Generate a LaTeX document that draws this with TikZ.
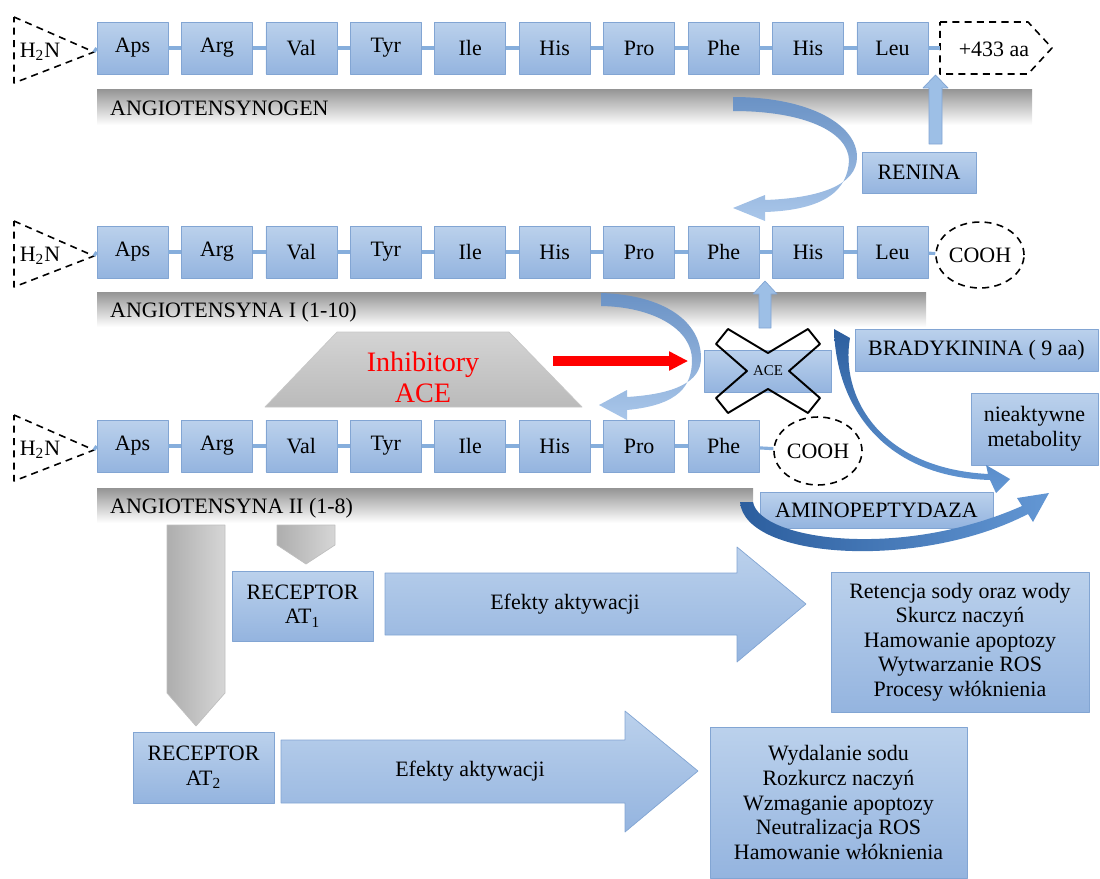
\documentclass[tikz,border=0pt]{standalone}
\usepackage{fontspec}
\setmainfont{Liberation Serif}
\usetikzlibrary{arrows.meta,shapes.geometric}

\definecolor{boxtop}{HTML}{BBD1EC}
\definecolor{boxbot}{HTML}{94B4DF}
\definecolor{boxedge}{HTML}{82A5D3}
\definecolor{linkblue}{HTML}{86AEDC}
\definecolor{upblue}{HTML}{9DBFE6}
\definecolor{curvedark}{HTML}{6A92C5}
\definecolor{curvelight}{HTML}{AAC7EA}
\definecolor{darkA}{HTML}{2C5E9E}
\definecolor{darkB}{HTML}{6397D4}

\begin{document}
\begin{tikzpicture}[x=0.02cm, y=-0.02cm, line join=round,
	every node/.style={font=\fontsize{12.5}{14}\selectfont},
	aa/.style={draw=boxedge, top color=boxtop, bottom color=boxbot, minimum width=1.42cm, minimum height=1.04cm, inner sep=0pt},
	bluebox/.style={draw=boxedge, top color=boxtop, bottom color=boxbot, inner sep=0pt, align=center},
	link/.style={draw=linkblue, line width=1.8pt},
	band/.style={top color=black!42, bottom color=white},
	endcap/.style={draw, line width=0.9pt, dash pattern=on 4pt off 3pt},
	grayarrow/.style={left color=black!32, right color=black!16, draw=black!25},
	bigarrow/.style={top color=boxtop, bottom color=boxbot, draw=boxedge},
	uparrow/.style={fill=upblue, draw=boxedge}]
	\useasboundingbox (0,0) rectangle (1100,879);

	% gray bands under the chains
	\shade[band] (97,89) rectangle (1032,125);
	\node[anchor=west] (ag) at (104,108) {ANGIOTENSYNOGEN};
	\shade[band] (97,292) rectangle (926,327);
	\node[anchor=west] (ang1) at (104,312) {ANGIOTENSYNA I (1-10)};
	\shade[band] (97,488) rectangle (753,523);
	\node[anchor=west] (ang2) at (104,508) {ANGIOTENSYNA II (1-8)};

	% curved light arrows
	\shade[top color=curvedark, bottom color=curvelight] (733,97) .. controls (810,97) and (857,125) .. (857,157) .. controls (857,185) and (820,198) .. (765,200) -- (765,195) -- (733,208) -- (765,221) -- (765,212) .. controls (825,210) and (848,190) .. (849,160) .. controls (848,132) and (805,111) .. (733,111) -- cycle;
	\shade[top color=curvedark, bottom color=curvelight] (601,293) .. controls (665,295) and (701,322) .. (701,358) .. controls (701,382) and (675,394) .. (627,397) -- (627,390) -- (599,405) -- (627,420) -- (627,410) .. controls (680,405) and (692,385) .. (692,360) .. controls (692,330) and (655,307) .. (601,306) -- cycle;

	% peptide chains
	\foreach \res [count=\i] in {Aps,Arg,Val,Tyr,Ile,His,Pro,Phe,His,Leu} {
		\node[aa] (a\i) at ({132.5+84.44*(\i-1)},48) {\res};
		\node[aa] (b\i) at ({132.5+84.44*(\i-1)},252) {\res};
	}
	\foreach \res [count=\i] in {Aps,Arg,Val,Tyr,Ile,His,Pro,Phe}
		\node[aa] (c\i) at ({132.5+84.44*(\i-1)},446) {\res};
	\foreach \i [count=\j from 2] in {1,...,9} {
		\draw[link] (a\i) -- (a\j);
		\draw[link] (b\i) -- (b\j);
	}
	\foreach \i [count=\j from 2] in {1,...,7} \draw[link] (c\i) -- (c\j);

	% N-terminus
	\foreach \row/\y in {a/48,b/252,c/446} {
		\draw[endcap] (14,\y-31) -- (94,\y+4) coordinate (\row0) -- (14,\y+35) -- cycle;
		\node (h\row) at (40,\y+4) {H\textsubscript{2}N};
		\draw[link] (\row0) -- (\row1.west);
	}

	% C-terminus
	\draw[endcap] (940,22) -- (1028,22) -- (1052,48) -- (1028,74) -- (940,74) -- cycle;
	\coordinate (ext) at (940,48);
	\node (rest) at (994,49) {+433 aa};
	\draw[link] (a10) -- (ext);
	\node[endcap, ellipse, minimum width=1.48cm, minimum height=1.32cm, inner sep=0pt] (cooh2) at (980,255) {COOH};
	\node[endcap, ellipse, minimum width=1.46cm, minimum height=1.36cm, inner sep=0pt] (cooh3) at (818,451) {COOH};
	\draw[link] (b10) -- (cooh2);
	\draw[link] (c8) -- (cooh3);

	% renin
	\node[bluebox, minimum width=2.28cm, minimum height=0.82cm] (renin) at (919,172.5) {RENINA};
	\draw[uparrow] (929,144) -- (929,88) -- (923,88) -- (935.5,75) -- (948,88) -- (942,88) -- (942,144) -- cycle;

	% ACE and inhibitors
	\shadedraw[top color=black!17, bottom color=black!27, draw=black!22] (265,407) -- (337,332) -- (509,332) -- (582,407) -- cycle;
	\node[text=red, align=center, font=\fontsize{16}{17.6}\selectfont] (inh) at (423,377) {Inhibitory\\ACE};
	\node[bluebox, minimum width=2.54cm, minimum height=0.84cm, font=\fontsize{8.5}{10}\selectfont] (ace) at (768,371) {ACE};
	\draw[line width=1.1pt, shift={(768,371)}] (-40,-42) -- (0,-18) -- (40,-42) -- (52,-27) -- (21,0) -- (52,27) -- (40,42) -- (0,18) -- (-40,42) -- (-52,27) -- (-21,0) -- (-52,-27) -- cycle;
	\coordinate (rs) at (553,361);
	\draw[red, line width=0.2cm, -{Triangle[length=0.38cm, width=0.36cm]}, shorten >=0.32cm] (rs) -- (rs -| ace.west);
	\draw[uparrow] (759,328) -- (759,294) -- (753,294) -- (765,281) -- (777,294) -- (771,294) -- (771,328) -- cycle;

	\node[bluebox, minimum width=4.86cm, minimum height=0.84cm] (brad) at (976.5,350) {BRADYKININA ( 9 aa)};
	\node[bluebox, minimum width=2.54cm, minimum height=1.44cm] (meta) at (1034.5,429) {nieaktywne\\metabolity};
	\node[bluebox, minimum width=4.66cm, minimum height=0.72cm] (amino) at (876.5,510) {AMINOPEPTYDAZA};

	% dark curved arrows
	\shade[top color=darkA, bottom color=darkB] (834,329) -- (850,338) .. controls (840,395) and (878,468) .. (988,474) -- (986,465) -- (1010,479) -- (996,493) -- (990,480) .. controls (885,477) and (836,408) .. (834,329) -- cycle;
	\shade[left color=darkA, right color=darkB] (740,502) -- (753,502) .. controls (760,540) and (900,560) .. (1022,506) -- (1017,498) -- (1049,493) -- (1033,522) -- (1028,514) .. controls (920,570) and (745,560) .. (740,502) -- cycle;

	% receptors
	\shadedraw[grayarrow] (167,525) -- (225,525) -- (225,693) -- (196,726) -- (167,693) -- cycle;
	\shadedraw[grayarrow] (277,525) -- (335,525) -- (335,545) -- (306,564) -- (277,545) -- cycle;
	\node[bluebox, minimum width=2.82cm, minimum height=1.4cm] (at1) at (302.5,606) {RECEPTOR\\AT\textsubscript{1}};
	\node[bluebox, minimum width=2.82cm, minimum height=1.42cm] (at2) at (203.5,767.5) {RECEPTOR\\AT\textsubscript{2}};

	\shadedraw[bigarrow] (385,573) -- (737,573) -- (737,547) -- (806,604) -- (737,662) -- (737,635) -- (385,635) -- cycle;
	\node (ef1) at (565,604) {Efekty aktywacji};
	\shadedraw[bigarrow] (281,740) -- (625,740) -- (625,711) -- (698,771) -- (625,832) -- (625,803) -- (281,803) -- cycle;
	\node (ef2) at (470,771) {Efekty aktywacji};

	\node[bluebox, minimum width=5.16cm, minimum height=2.8cm] (out1) at (960,642) {Retencja sody oraz wody\\Skurcz naczyń\\Hamowanie apoptozy\\Wytwarzanie ROS\\Procesy włóknienia};
	\node[bluebox, minimum width=5.14cm, minimum height=3.02cm] (out2) at (838.5,802.5) {Wydalanie sodu\\Rozkurcz naczyń\\Wzmaganie apoptozy\\Neutralizacja ROS\\Hamowanie włóknienia};
\end{tikzpicture}
\end{document}
